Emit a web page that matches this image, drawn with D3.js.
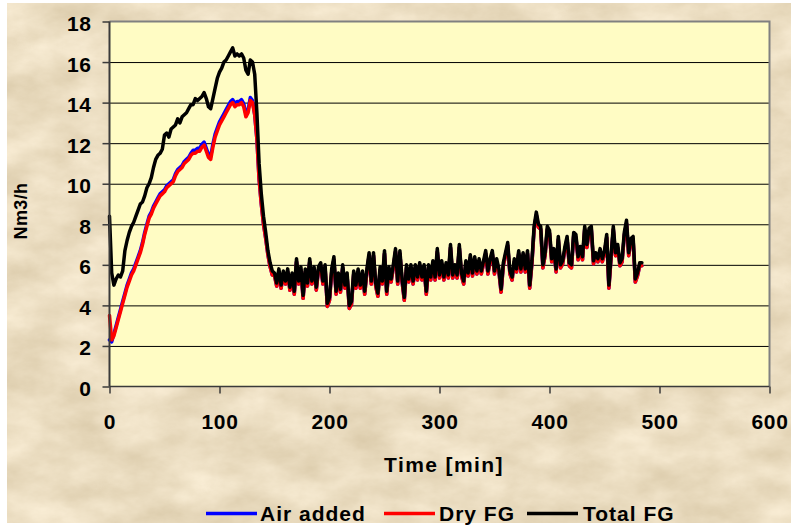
<!DOCTYPE html>
<html>
<head>
<meta charset="utf-8">
<script src="https://cdn.jsdelivr.net/npm/d3@7"></script>
<style>
  html, body { margin: 0; padding: 0; background: #ffffff; }
  svg { display: block; }
  text { font-family: "Liberation Sans", Arial, sans-serif; font-weight: bold; fill: #000; }
</style>
</head>
<body>
<svg id="chart" width="794" height="526"></svg>
<script>
// ---------------- DATA ----------------
const seriesNames = ["Air added", "Dry FG", "Total FG"];
const seriesColors = ["#0000FF", "#FF0000", "#000000"];
const xTickValues = [0, 100, 200, 300, 400, 500, 600];
const yTickValues = [0, 2, 4, 6, 8, 10, 12, 14, 16, 18];
const xTitle = "Time [min]";
const yTitle = "Nm3/h";

// sample times (min), one sample every 2 minutes
const timeMin = d3.range(0, 485, 2);

// Total FG
const totalFG = [
  8.4,5.6,5.0,5.3,5.5,5.4,5.7,6.7,7.2,7.6,7.9,8.1,8.4,8.7,9.0,9.1,9.4,9.8,10.0,10.3,
  10.8,11.2,11.4,11.5,11.7,12.4,12.5,12.3,12.7,12.8,12.9,13.2,13.0,13.3,13.4,13.5,13.7,13.9,13.9,14.2,
  14.1,14.2,14.3,14.5,14.2,13.8,13.7,14.2,14.7,15.2,15.5,15.7,16.0,16.1,16.3,16.5,16.7,16.3,16.4,16.3,
  16.4,16.2,15.6,15.4,16.1,16.0,15.4,13.5,11.0,9.5,8.4,7.6,6.7,6.1,5.7,
  5.6,5.1,5.8,5.0,5.7,5.2,5.8,4.9,5.6,4.7,
  6.3,5.2,5.9,4.5,5.8,5.1,6.3,5.2,5.9,4.9,
  5.9,6.1,5.2,6.0,4.1,4.4,5.8,6.4,4.7,5.6,
  4.8,6.0,5.0,5.6,4.0,4.2,5.7,5.0,5.8,5.0,
  5.7,4.7,5.8,6.6,5.2,6.6,5.1,4.6,5.9,5.2,
  6.7,4.7,5.9,5.3,6.0,6.8,5.2,6.7,5.3,4.4,
  6.0,5.3,6.0,5.2,6.0,5.4,6.1,5.4,6.0,4.7,
  6.0,5.4,6.2,5.4,6.8,5.5,6.2,5.4,6.1,5.5,
  7.0,5.5,6.0,5.5,7.0,5.6,5.2,6.2,5.6,6.5,
  5.6,6.4,5.7,6.3,5.7,6.2,6.7,5.7,6.3,6.7,
  5.7,6.3,5.8,4.8,6.1,6.6,7.1,5.7,5.4,6.3,
  5.8,6.7,5.8,6.6,5.8,6.7,5.0,6.2,7.9,8.6,
  8.0,7.9,6.0,6.6,7.9,7.7,6.3,6.8,5.8,7.4,
  6.0,6.2,6.9,7.4,6.1,6.0,7.6,7.5,6.4,6.9,
  6.4,7.9,7.0,7.8,7.9,6.2,6.6,6.3,6.8,6.3,
  6.7,7.5,5.0,6.5,7.9,6.6,7.0,6.1,6.3,7.6,
  8.2,6.6,7.3,7.4,5.3,5.6,6.1,6.1
];

// Dry FG
const dryFG = [
  3.5,2.3,2.5,2.9,3.3,3.7,4.1,4.5,4.9,5.2,5.5,5.7,6.0,6.3,6.6,7.0,7.5,7.9,8.3,8.5,
  8.8,9.0,9.2,9.4,9.5,9.6,9.8,9.9,10.0,10.1,10.4,10.6,10.7,10.8,11.0,11.1,11.2,11.4,11.5,11.5,
  11.6,11.6,11.8,11.9,11.6,11.3,11.2,11.8,12.3,12.6,12.9,13.1,13.3,13.5,13.7,13.9,14.0,13.8,13.9,13.9,
  14.0,13.8,13.3,13.5,14.1,14.0,13.4,12.2,10.2,9.0,8.0,7.3,6.5,5.9,5.5,
  5.45,4.95,5.65,4.85,5.55,5.05,5.65,4.75,5.45,4.55,
  6.15,5.05,5.75,4.35,5.65,4.95,6.15,5.05,5.75,4.75,
  5.75,5.95,5.05,5.85,3.95,4.25,5.65,6.25,4.55,5.45,
  4.65,5.85,4.85,5.45,3.85,4.05,5.55,4.85,5.65,4.85,
  5.55,4.55,5.65,6.45,5.05,6.45,4.95,4.45,5.75,5.05,
  6.55,4.55,5.75,5.15,5.85,6.65,5.05,6.55,5.15,4.25,
  5.85,5.15,5.85,5.05,5.85,5.25,5.95,5.25,5.85,4.55,
  5.85,5.25,6.05,5.25,6.65,5.35,6.05,5.25,5.95,5.35,
  6.85,5.35,5.85,5.35,6.85,5.45,5.05,6.05,5.45,6.35,
  5.45,6.25,5.55,6.15,5.55,6.05,6.55,5.55,6.15,6.55,
  5.55,6.15,5.65,4.65,5.95,6.45,6.95,5.55,5.25,6.15,
  5.65,6.55,5.65,6.45,5.65,6.55,4.85,6.05,7.75,8.45,
  7.85,7.75,5.85,6.45,7.75,7.55,6.15,6.65,5.65,7.25,
  5.85,6.05,6.75,7.25,5.95,5.85,7.45,7.35,6.25,6.75,
  6.25,7.75,6.85,7.65,7.75,6.05,6.45,6.15,6.65,6.15,
  6.55,7.35,4.85,6.35,7.75,6.45,6.85,5.95,6.15,7.45,
  8.05,6.45,7.15,7.25,5.15,5.45,5.95,5.95
];

// Air added
const airAdded = [
  2.3,2.2,2.6,3.0,3.4,3.8,4.2,4.6,5.0,5.3,5.6,5.8,6.1,6.4,6.7,7.1,7.6,8.0,8.4,8.6,
  8.9,9.1,9.3,9.5,9.6,9.7,9.9,10.0,10.1,10.2,10.5,10.7,10.8,10.9,11.1,11.2,11.3,11.5,11.65,11.65,
  11.75,11.75,11.95,12.05,11.75,11.45,11.35,11.95,12.45,12.75,13.05,13.25,13.45,13.65,13.85,14.05,14.15,13.95,14.05,14.05,
  14.15,13.95,13.45,13.65,14.25,14.1,13.4,12.2,10.2,9.0,8.0,7.3,6.5,5.9,5.5,
  5.45,4.95,5.65,4.85,5.55,5.05,5.65,4.75,5.45,4.55,
  6.15,5.05,5.75,4.35,5.65,4.95,6.15,5.05,5.75,4.75,
  5.75,5.95,5.05,5.85,3.95,4.25,5.65,6.25,4.55,5.45,
  4.65,5.85,4.85,5.45,3.85,4.05,5.55,4.85,5.65,4.85,
  5.55,4.55,5.65,6.45,5.05,6.45,4.95,4.45,5.75,5.05,
  6.55,4.55,5.75,5.15,5.85,6.65,5.05,6.55,5.15,4.25,
  5.85,5.15,5.85,5.05,5.85,5.25,5.95,5.25,5.85,4.55,
  5.85,5.25,6.05,5.25,6.65,5.35,6.05,5.25,5.95,5.35,
  6.85,5.35,5.85,5.35,6.85,5.45,5.05,6.05,5.45,6.35,
  5.45,6.25,5.55,6.15,5.55,6.05,6.55,5.55,6.15,6.55,
  5.55,6.15,5.65,4.65,5.95,6.45,6.95,5.55,5.25,6.15,
  5.65,6.55,5.65,6.45,5.65,6.55,4.85,6.05,7.75,8.45,
  7.85,7.75,5.85,6.45,7.75,7.55,6.15,6.65,5.65,7.25,
  5.85,6.05,6.75,7.25,5.95,5.85,7.45,7.35,6.25,6.75,
  6.25,7.75,6.85,7.65,7.75,6.05,6.45,6.15,6.65,6.15,
  6.55,7.35,4.85,6.35,7.75,6.45,6.85,5.95,6.15,7.45,
  8.05,6.45,7.15,7.25,5.15,5.45,5.95,5.95
];

const seriesValues = [airAdded, dryFG, totalFG];

// ---------------- LAYOUT ----------------
const W = 794, H = 526;
const plot = { left: 109.5, right: 769.5, top: 21.5, bottom: 386.5 };

const svg = d3.select("#chart");
const defs = svg.append("defs");

// parchment texture
const f = defs.append("filter").attr("id", "paper")
  .attr("x", 0).attr("y", 0).attr("width", "100%").attr("height", "100%")
  .attr("color-interpolation-filters", "sRGB");
f.append("feTurbulence").attr("type", "fractalNoise")
  .attr("baseFrequency", "0.018 0.03").attr("numOctaves", 6).attr("seed", 11).attr("result", "n");
f.append("feColorMatrix").attr("in", "n").attr("type", "matrix")
  .attr("values", "0.15 0 0 0 0.845  0.17 0 0 0 0.78  0.21 0 0 0 0.65  0 0 0 0 1");

svg.append("rect").attr("x", 0).attr("y", 0).attr("width", W).attr("height", H).attr("fill", "#ffffff");
svg.append("rect").attr("x", 7).attr("y", 3).attr("width", 784).attr("height", 520)
  .attr("fill", "#E8DCC2").attr("filter", "url(#paper)");

const x = d3.scaleLinear().domain([0, 600]).range([plot.left, plot.right]);
const y = d3.scaleLinear().domain([0, 18]).range([plot.bottom, plot.top]);

// plot area
svg.append("rect")
  .attr("x", plot.left).attr("y", plot.top)
  .attr("width", plot.right - plot.left).attr("height", plot.bottom - plot.top)
  .attr("fill", "#FFFCC4");

// gridlines
const grid = svg.append("g").attr("transform", `translate(${plot.left},0)`)
  .call(d3.axisLeft(y).tickValues(yTickValues.filter(v => v > 0 && v < 18))
    .tickSize(-(plot.right - plot.left)).tickFormat(""));
grid.select(".domain").remove();
grid.selectAll("line").attr("stroke", "#000").attr("stroke-width", 1);

// top / right border (grey)
svg.append("path")
  .attr("d", `M${plot.left},${plot.top}H${plot.right}V${plot.bottom}`)
  .attr("fill", "none").attr("stroke", "#808080").attr("stroke-width", 2);

// lines
const line = d3.line()
  .x((d, i) => x(timeMin[i]))
  .y(d => y(d))
  .curve(d3.curveLinear);

const lineG = svg.append("g");
seriesValues.forEach((vals, k) => {
  lineG.append("path")
    .attr("d", line(vals))
    .attr("fill", "none")
    .attr("stroke", seriesColors[k])
    .attr("stroke-width", 3.5)
    .attr("stroke-linejoin", "round")
    .attr("stroke-linecap", "round");
});

// Y axis
const yAxis = svg.append("g").attr("transform", `translate(${plot.left},0)`)
  .call(d3.axisLeft(y).tickValues(yTickValues).tickSize(7).tickPadding(11));
yAxis.select(".domain").attr("stroke", "#3a3a3a").attr("stroke-width", 2)
  .attr("d", `M0,${plot.top}V${plot.bottom}`);
yAxis.selectAll(".tick line").attr("stroke", "#3a3a3a").attr("stroke-width", 1.5);
yAxis.selectAll(".tick text")
  .attr("dy", "0").attr("y", 9)
  .style("font-size", "21px").style("font-family", "'Liberation Sans', Arial, sans-serif")
  .style("font-weight", "bold").style("letter-spacing", "0.6px").attr("fill", "#000");

// X axis
const xAxis = svg.append("g").attr("transform", `translate(0,${plot.bottom})`)
  .call(d3.axisBottom(x).tickValues(xTickValues).tickSize(7));
xAxis.select(".domain").attr("stroke", "#3a3a3a").attr("stroke-width", 1.5)
  .attr("d", `M${plot.left},0H${plot.right}`);
xAxis.selectAll(".tick line").attr("stroke", "#3a3a3a").attr("stroke-width", 1.5);
xAxis.selectAll(".tick text")
  .attr("dy", "0").attr("y", 42)
  .style("font-size", "21px").style("font-family", "'Liberation Sans', Arial, sans-serif")
  .style("font-weight", "bold").style("letter-spacing", "0.6px").attr("fill", "#000");

// titles
svg.append("text")
  .attr("x", 444).attr("y", 472)
  .attr("text-anchor", "middle")
  .style("font-size", "21px").style("letter-spacing", "1.4px")
  .text(xTitle);

svg.append("text")
  .attr("transform", "translate(27,211) rotate(-90)")
  .attr("text-anchor", "middle")
  .style("font-size", "18px").style("letter-spacing", "0.4px")
  .text(yTitle);

// legend
const legendItems = [
  { lineX: 206, textX: 260 },
  { lineX: 384, textX: 439 },
  { lineX: 527, textX: 583 }
];
const legend = svg.append("g");
seriesNames.forEach((name, k) => {
  const it = legendItems[k];
  legend.append("line")
    .attr("x1", it.lineX).attr("x2", it.lineX + 51)
    .attr("y1", 513.5).attr("y2", 513.5)
    .attr("stroke", seriesColors[k]).attr("stroke-width", 3.5);
  legend.append("text")
    .attr("x", it.textX).attr("y", 520.5)
    .style("font-size", "21px").style("letter-spacing", "1px")
    .text(name);
});
</script>
</body>
</html>
